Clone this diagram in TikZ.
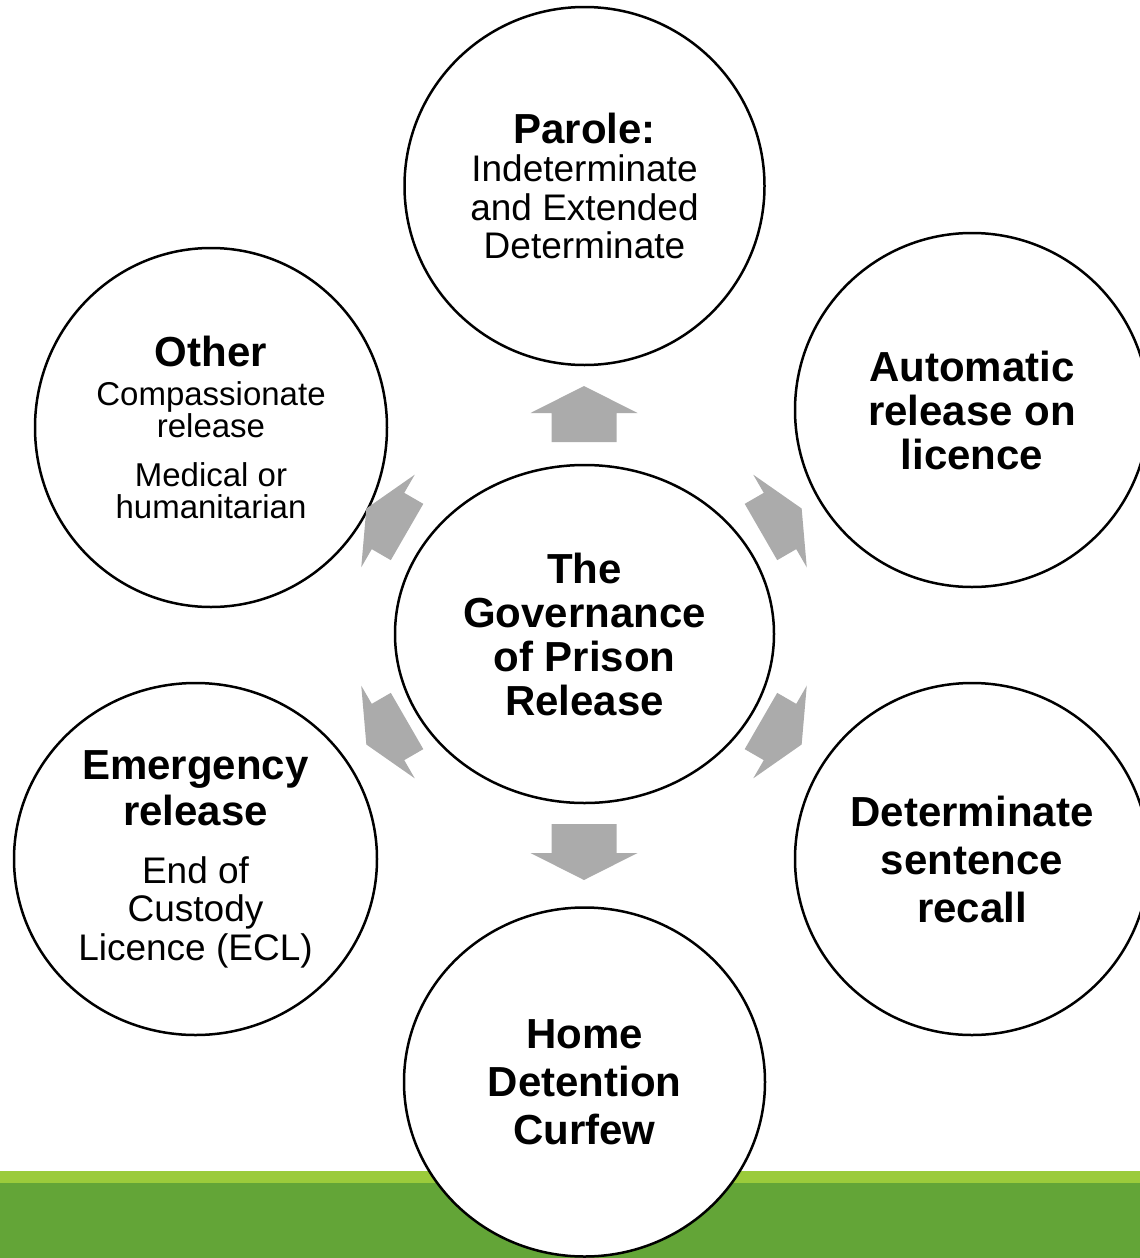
\documentclass[tikz,border=0pt]{standalone}
\usepackage{fontspec}
\setmainfont{Liberation Sans}
\usetikzlibrary{shapes.geometric}
\definecolor{barlight}{RGB}{155,203,59}
\definecolor{bardark}{RGB}{99,165,55}
\definecolor{arrgray}{RGB}{171,171,171}
\newcommand{\headfont}{\fontsize{21}{22}\selectfont\bfseries}
\newcommand{\bodyfont}{\fontsize{18.5}{19.25}\selectfont}
\newcommand{\notefont}{\fontsize{16.5}{16}\selectfont}
\begin{document}
\begin{tikzpicture}[x=0.5pt,y=-0.5pt,line join=round,
		bubble/.style={ellipse,draw,line width=1.25pt,fill=white,inner sep=0pt,align=center}]
			\clip (0,0) rectangle (1140,1258);
			% green band along the foot
			\fill[barlight] (0,1171) rectangle (1140,1183);
			\fill[bardark] (0,1183) rectangle (1140,1258);
			% the bubbles
			\node[bubble,minimum width=379pt*0.5,minimum height=338pt*0.5,font=\headfont] (centre) at (584.5,634) {The\\Governance\\of Prison\\Release};
			\node[bubble,minimum width=360pt*0.5,minimum height=358pt*0.5,font=\bodyfont] (parole) at (584.5,186) {\headfont Parole:\\\bodyfont Indeterminate\\\bodyfont and Extended\\\bodyfont Determinate};
			\node[bubble,minimum width=354pt*0.5,minimum height=354pt*0.5,font=\headfont] (autorel) at (972,410) {Automatic\\release on\\licence};
			\node[bubble,minimum width=354pt*0.5,minimum height=352pt*0.5,font=\fontsize{21}{24}\selectfont\bfseries] (recall) at (972,859) {Determinate\\sentence\\recall};
			\node[bubble,minimum width=361pt*0.5,minimum height=349pt*0.5,font=\fontsize{21}{24}\selectfont\bfseries] (hdc) at (584.5,1082) {Home\\Detention\\Curfew};
			\node[bubble,minimum width=363pt*0.5,minimum height=352pt*0.5,font=\bodyfont] (emerg) at (195.5,859) {\headfont Emergency\\[2.25pt]\headfont release\\[9.75pt]\bodyfont End of\\\bodyfont Custody\\\bodyfont Licence (ECL)};
			\node[bubble,minimum width=352pt*0.5,minimum height=359pt*0.5,font=\notefont] (other) at (211,427.5) {\headfont Other\\[3.5pt]\notefont Compassionate\\\notefont release\\[8.5pt]\notefont Medical or\\\notefont humanitarian};
			% grey block arrows round the centre
			\foreach \px/\py/\ang/\sh/\hd in {584/413/90/29/27,780/521/30/22/25,780/732/-30/22/25,584/853/-90/29/27,388/732/-150/22/25,388/521/150/22/25}
				\fill[arrgray,shift={(\px,\py)},rotate=\ang] (-\sh,-32.5)--(0,-32.5)--(0,-53.5)--(\hd,0)--(0,53.5)--(0,32.5)--(-\sh,32.5)--cycle;
		\end{tikzpicture}
\end{document}
